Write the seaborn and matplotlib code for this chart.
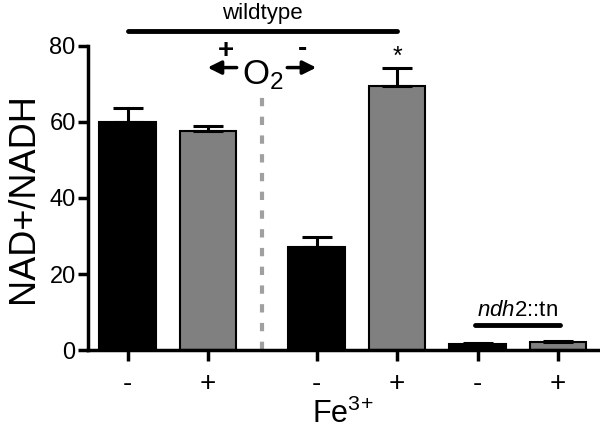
import matplotlib
matplotlib.use("Agg")
import matplotlib.pyplot as plt
import seaborn as sns
import pandas as pd

# bar data
positions = [0, 1, 2.35, 3.35, 4.35, 5.35]
fe_labels = ['-', '+', '-', '+', '-', '+']
ratio = [60, 57.7, 27, 69.5, 1.5, 2.0]
ratio_err = [3.6, 1.2, 2.8, 4.6, 0.3, 0.5]

sns.set_style("ticks")
plt.rcParams['font.family'] = ['Liberation Sans', 'DejaVu Sans']
plt.rcParams['mathtext.fontset'] = 'custom'
plt.rcParams['mathtext.rm'] = 'Liberation Sans'
plt.rcParams['mathtext.it'] = 'Liberation Sans:italic'
for key in ['text.color', 'axes.labelcolor', 'xtick.color', 'ytick.color', 'axes.edgecolor']:
    plt.rcParams[key] = 'black'

df = pd.DataFrame({'pos': positions, 'fe': fe_labels, 'ratio': ratio})

fig = plt.figure(figsize=(6, 4.29), dpi=100)
ax = fig.add_axes([0.147, 0.184, 0.85, 0.709])

sns.barplot(data=df, x='pos', y='ratio', hue='fe', native_scale=True,
            palette={'-': 'black', '+': '#808080'}, dodge=False,
            width=0.7, edgecolor='black', linewidth=1.5, errorbar=None,
            legend=False, ax=ax)

# upper error bars only
ax.errorbar(positions, ratio, yerr=[[0] * len(ratio_err), ratio_err],
            fmt='none', ecolor='black', elinewidth=2.2, capsize=11, capthick=2.2)

ax.set_xlim(-0.49, 5.85)
ax.set_ylim(0, 80)
ax.set_yticks([0, 20, 40, 60, 80])
ax.set_xticks(positions)
ax.set_xticklabels(fe_labels, fontsize=20)
ax.tick_params(axis='y', labelsize=17, width=2.5, length=7, pad=2)
ax.tick_params(axis='x', width=2.5, length=8, pad=7)
ax.set_ylabel('NAD+/NADH', fontsize=26, labelpad=6)
ax.set_xlabel('Fe$^{3\!+}$', fontsize=22, labelpad=1)
for s in ['left', 'bottom']:
    ax.spines[s].set_linewidth(2.5)
sns.despine(ax=ax)

# O2 divider
ax.plot([1.675, 1.675], [0, 68], color='#a0a0a0', lw=3, dashes=(2, 2.5))
ax.text(1.675, 72.3, 'O$_2$', ha='center', va='center', fontsize=25)
ax.annotate('', xy=(0.96, 74.3), xytext=(1.39, 74.3),
            arrowprops=dict(arrowstyle='-|>', color='black', lw=2.5, mutation_scale=20))
ax.annotate('', xy=(2.38, 74.3), xytext=(1.95, 74.3),
            arrowprops=dict(arrowstyle='-|>', color='black', lw=2.5, mutation_scale=20))
ax.text(1.22, 78.6, '+', ha='center', va='center', fontsize=20, fontweight='bold')
ax.text(2.17, 79.2, '-', ha='center', va='center', fontsize=20, fontweight='bold')

# wildtype bracket
ax.plot([0, 3.35], [83.8, 83.8], color='black', lw=3.5, clip_on=False)
ax.text(1.675, 88.6, 'wildtype', ha='center', va='center', fontsize=16)
ax.text(3.35, 77.0, '*', ha='center', va='center', fontsize=18)

# mutant bracket
ax.plot([4.32, 5.38], [6.6, 6.6], color='black', lw=3.5)
ax.text(4.85, 10.5, r'$\it{ndh2}$::tn', ha='center', va='center', fontsize=16)

fig.savefig('out.png', dpi=100)
